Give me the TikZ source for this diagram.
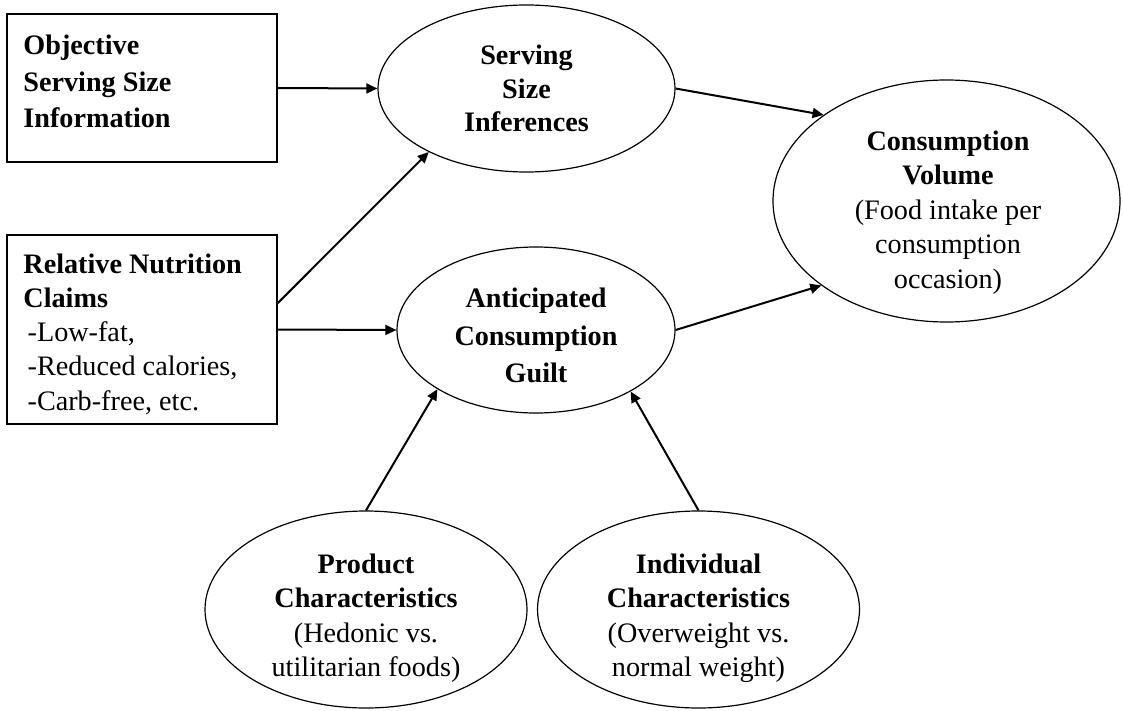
\documentclass[tikz,border=0pt]{standalone}
\usepackage{fontspec}
\setmainfont{Liberation Serif}
\usetikzlibrary{shapes.geometric,arrows.meta}
\newcommand{\fs}[1]{\fontsize{14.1pt}{#1}\selectfont}
\begin{document}
\begin{tikzpicture}[x=0.5pt,y=-0.5pt,
  boxshape/.style={draw,line width=0.75pt,rectangle,inner sep=0pt},
  ell/.style={draw,line width=0.6pt,ellipse,inner sep=0pt},
  txt/.style={inner sep=0pt,align=center},
  ltxt/.style={inner sep=0pt,align=left,anchor=west},
  arr/.style={line width=1pt,-{Triangle[length=5.5pt,width=5pt]}}]
\useasboundingbox (0,0) rectangle (1123,711);
% shapes
\node[boxshape,minimum width=135pt,minimum height=74pt] (b1) at (142,88) {};
\node[boxshape,minimum width=135pt,minimum height=94.5pt] (b2) at (142,329.5) {};
\node[ell,minimum width=148.5pt,minimum height=83.5pt] (e1) at (526.5,88.5) {};
\node[ell,minimum width=139pt,minimum height=83pt] (e2) at (536,330) {};
\node[ell,minimum width=173.5pt,minimum height=121pt] (e3) at (946.5,201) {};
\node[ell,minimum width=161pt,minimum height=98.5pt] (p) at (366,609.5) {};
\node[ell,minimum width=161pt,minimum height=98.5pt] (i) at (698.5,609.5) {};
% texts
\node[ltxt,font=\fs{18.25pt}] (t1) at (23,81.8)
  {\textbf{Objective}\\\textbf{Serving Size}\\\textbf{Information}};
\node[ltxt,font=\fs{17.1pt}] (t2) at (23,334)
  {\textbf{Relative Nutrition}\\\textbf{Claims}\\\hspace*{0.15em}-Low-fat,\\\hspace*{0.15em}-Reduced calories,\\\hspace*{0.15em}-Carb-free, etc.};
\node[txt,font=\fs{16.75pt}] (te1) at (526.5,88.8)
  {\textbf{Serving}\\\textbf{Size}\\\textbf{Inferences}};
\node[txt,font=\fs{18.75pt}] (te2) at (536,335.8)
  {\textbf{Anticipated}\\\textbf{Consumption}\\\textbf{Guilt}};
\node[txt,font=\fs{17.25pt}] (te3) at (948,212.3)
  {\textbf{Consumption}\\\textbf{Volume}\\(Food intake per\\consumption\\occasion)};
\node[txt,font=\fs{17.3pt}] (tp) at (366,618.3)
  {\textbf{Product}\\\textbf{Characteristics}\\(Hedonic vs.\\utilitarian foods)};
\node[txt,font=\fs{17.3pt}] (ti) at (698.5,618.3)
  {\textbf{Individual}\\\textbf{Characteristics}\\(Overweight vs.\\normal weight)};
% connectors
\draw[arr] (b1.east) -- (e1.west);
\draw[arr] (b2.11.1) -- (e1.213.75);
\draw[arr] (b2.east) -- (e2.west);
\draw[arr] (e1.east) -- (e3.145.5);
\draw[arr] (e2.east) -- (e3.214.8);
\draw[arr] (p.north) -- (e2.211.5);
\draw[arr] (i.north) -- (e2.327.9);
\end{tikzpicture}
\end{document}
